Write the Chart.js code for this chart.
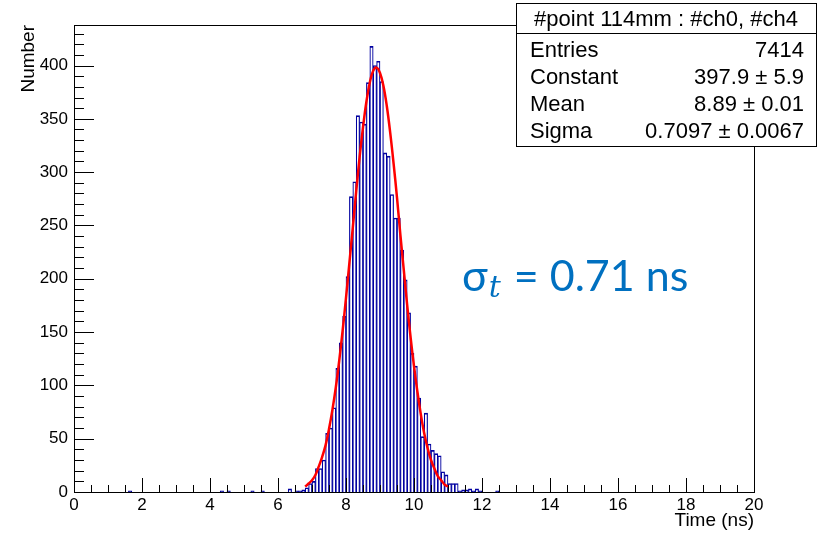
<!DOCTYPE html>
<html lang="en">
<head>
  <meta charset="UTF-8">
  <title>Time difference #ch0 - #ch4</title>
  <script src="https://cdn.jsdelivr.net/npm/chart.js"></script>
  <style>
    body {
      margin: 0;
      background: #fff;
    }
    #wrap {
      width: 822px;
      height: 534px;
    }
  </style>
</head>
<body>
  <div id="wrap"><canvas id="timeHist" width="822" height="534"></canvas></div>

  <script>
    // histogram bins (centers, ns) and counts, 0.1 ns bins
    const binCenters = [
      1.65, 4.35, 4.55, 5.25, 5.55, 6.35, 6.55, 6.65, 6.75, 6.85, 6.95,
      7.05, 7.15, 7.25, 7.35, 7.45, 7.55, 7.65, 7.75, 7.85, 7.95,
      8.05, 8.15, 8.25, 8.35, 8.45, 8.55, 8.65, 8.75, 8.85, 8.95,
      9.05, 9.15, 9.25, 9.35, 9.45, 9.55, 9.65, 9.75, 9.85, 9.95,
      10.05, 10.15, 10.25, 10.35, 10.45, 10.55, 10.65, 10.75, 10.85, 10.95,
      11.05, 11.15, 11.25, 11.35, 11.45, 11.55, 11.65, 11.75, 11.85, 11.95, 12.45
    ];
    const counts = [
      1, 1, 1, 1, 1, 3, 1, 1, 2, 4, 8,
      10, 22, 22, 30, 55, 60, 79, 116, 140, 165,
      202, 277, 291, 353, 347, 345, 384, 418, 400, 404,
      385, 318, 315, 279, 257, 257, 227, 199, 168, 130,
      118, 88, 52, 74, 45, 39, 36, 34, 19, 16,
      8, 8, 8, 1, 2, 2, 3, 1, 3, 1, 1
    ];

    // gaussian fit curve
    const fitTime = [
      6.8, 6.9, 7.0, 7.1, 7.2, 7.3, 7.4, 7.5, 7.6, 7.7, 7.8, 7.9,
      8.0, 8.1, 8.2, 8.3, 8.4, 8.5, 8.6, 8.7, 8.8, 8.9,
      9.0, 9.1, 9.2, 9.3, 9.4, 9.5, 9.6, 9.7, 9.8, 9.9,
      10.0, 10.1, 10.2, 10.3, 10.4, 10.5, 10.6, 10.7, 10.8, 10.9, 11.0
    ];
    const fitValue = [
      5, 8, 11, 16, 24, 33, 44, 59, 77, 98, 123, 151,
      182, 215, 248, 282, 314, 342, 366, 384, 395, 398,
      393, 381, 362, 337, 308, 276, 241, 208, 175, 145,
      118, 94, 73, 55, 41, 30, 22, 15, 11, 7, 5
    ];

    const xTicks = [0, 2, 4, 6, 8, 10, 12, 14, 16, 18, 20];
    const yTicks = [0, 50, 100, 150, 200, 250, 300, 350, 400];

    const statTitle = '#point 114mm : #ch0, #ch4';
    const statLabels = ['Entries', 'Constant', 'Mean', 'Sigma'];
    const statValues = ['7414', '397.9 \u00b1 5.9', '8.89 \u00b1 0.01', '0.7097 \u00b1 0.0067'];

    // pick a Helvetica-like face that is really installed
    function pickFont(names) {
      const c = document.createElement('canvas').getContext('2d');
      const probe = 'Entries 0.7097 mmmWWiil';
      c.font = '40px monospace';
      const ref = c.measureText(probe).width;
      for (const n of names) {
        c.font = '40px "' + n + '", monospace';
        if (Math.abs(c.measureText(probe).width - ref) > 0.5) return '"' + n + '", sans-serif';
      }
      return 'sans-serif';
    }
    const FONT = pickFont(['Liberation Sans', 'Arimo', 'Arial', 'Helvetica', 'Nimbus Sans', 'Roboto']);

    // ROOT-like frame, inward ticks, titles, stats box and annotation
    const rootDecor = {
      id: 'rootDecor',
      afterDraw(chart) {
        const { ctx, chartArea: a, scales: { x, y } } = chart;
        ctx.save();
        ctx.strokeStyle = '#000';
        ctx.lineWidth = 1;

        // frame
        ctx.strokeRect(a.left + 0.5, a.top + 0.5, a.right - a.left, a.bottom - a.top);

        // x ticks: major every 2, minor every 0.5
        ctx.beginPath();
        for (let i = 0; i <= 40; i++) {
          const px = Math.round(x.getPixelForValue(i * 0.5)) + 0.5;
          const len = i % 4 === 0 ? 14 : 7;
          ctx.moveTo(px, a.bottom);
          ctx.lineTo(px, a.bottom - len);
        }
        // y ticks: major every 50, minor every 10
        for (let i = 0; i <= 43; i++) {
          const py = Math.round(y.getPixelForValue(i * 10)) + 0.5;
          const len = i % 5 === 0 ? 20 : 10;
          ctx.moveTo(a.left, py);
          ctx.lineTo(a.left + len, py);
        }
        ctx.stroke();

        // axis titles
        ctx.fillStyle = '#000';
        ctx.font = '19px ' + FONT;
        ctx.textAlign = 'right';
        ctx.textBaseline = 'alphabetic';
        ctx.fillText('Time (ns)', a.right, 526);
        ctx.save();
        ctx.translate(34, a.top);
        ctx.rotate(-Math.PI / 2);
        ctx.fillText('Number', 0, 0);
        ctx.restore();

        // stats box
        const bx = 516, by = 3, bw = 300, bh = 143;
        ctx.fillStyle = '#fff';
        ctx.fillRect(bx, by, bw, bh);
        ctx.strokeRect(bx + 0.5, by + 0.5, bw, bh);
        ctx.beginPath();
        ctx.moveTo(bx, 33.5);
        ctx.lineTo(bx + bw, 33.5);
        ctx.stroke();
        ctx.fillStyle = '#000';
        ctx.font = '22px ' + FONT;
        ctx.textAlign = 'center';
        ctx.fillText(statTitle, bx + bw / 2, 26);
        statLabels.forEach((lab, i) => {
          const base = 57 + i * 27;
          ctx.textAlign = 'left';
          ctx.fillText(lab, bx + 14, base);
          ctx.textAlign = 'right';
          ctx.fillText(statValues[i], bx + bw - 12, base);
        });

        // sigma annotation
        ctx.fillStyle = '#0070c0';
        ctx.textAlign = 'left';
        let tx = 462;
        const base = 291;
        ctx.font = "43px Lato, 'Noto Sans', sans-serif";
        ctx.fillText('\u03c3', tx, base);
        tx += ctx.measureText('\u03c3').width;
        ctx.font = "italic 30px 'DejaVu Serif', serif";
        ctx.fillText('t', tx + 1, base + 6);
        tx += ctx.measureText('t').width + 3;
        ctx.font = "43px Lato, 'Noto Sans', sans-serif";
        ctx.fillText(' = 0.71 ns', tx, base);

        ctx.restore();
      }
    };

    new Chart(document.getElementById('timeHist'), {
      type: 'bar',
      data: {
        datasets: [
          {
            type: 'line',
            label: 'fit',
            data: fitTime.map((t, i) => ({ x: t, y: fitValue[i] })),
            borderColor: '#ff0000',
            borderWidth: 2.5,
            pointRadius: 0,
            tension: 0.4,
            fill: false,
            order: 0
          },
          {
            type: 'bar',
            label: 'time',
            data: binCenters.map((t, i) => ({ x: t, y: counts[i] })),
            backgroundColor: 'rgba(255,255,255,0)',
            borderColor: '#0000a0',
            borderWidth: { top: 1, right: 0.5, bottom: 0, left: 0.5 },
            borderSkipped: false,
            barPercentage: 1,
            categoryPercentage: 1,
            order: 1
          }
        ]
      },
      options: {
        responsive: false,
        animation: false,
        layout: { padding: { top: 25, right: 68, left: 0, bottom: 0 } },
        plugins: {
          legend: { display: false },
          tooltip: { enabled: false }
        },
        scales: {
          x: {
            type: 'linear',
            min: 0,
            max: 20,
            offset: false,
            grid: { display: false, offset: false, drawTicks: false },
            border: { display: false },
            afterBuildTicks: s => { s.ticks = xTicks.map(v => ({ value: v })); },
            afterFit: s => { s.height = 42; },
            ticks: {
              padding: 3,
              maxRotation: 0,
              autoSkip: false,
              color: '#000',
              font: { family: FONT, size: 17 }
            }
          },
          y: {
            min: 0,
            max: 438,
            grid: { display: false, drawTicks: false },
            border: { display: false },
            afterBuildTicks: s => { s.ticks = yTicks.map(v => ({ value: v })); },
            afterFit: s => { s.width = 74; },
            ticks: {
              padding: 6,
              color: '#000',
              font: { family: FONT, size: 17 }
            }
          }
        }
      },
      plugins: [rootDecor]
    });
  </script>
</body>
</html>
